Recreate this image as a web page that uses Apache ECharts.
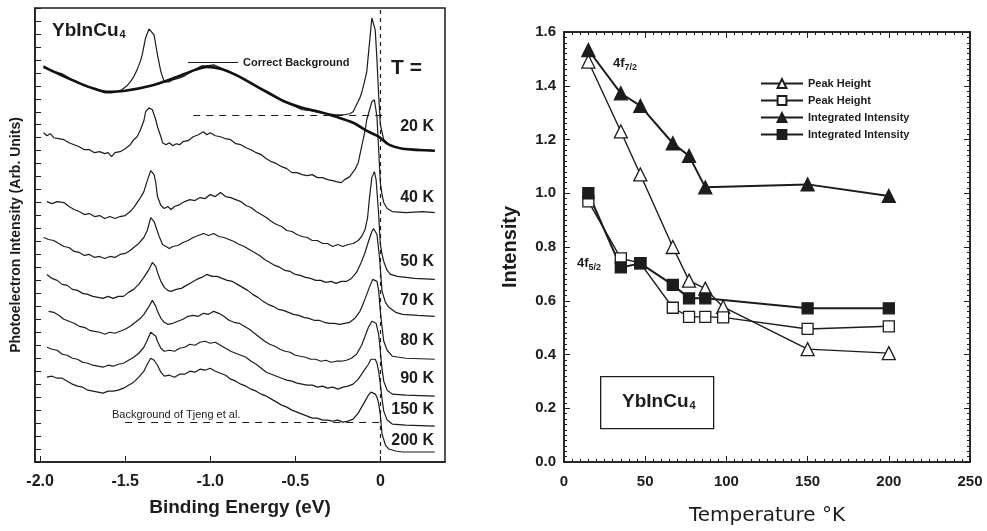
<!DOCTYPE html>
<html>
<head>
<meta charset="utf-8">
<script src="https://cdn.jsdelivr.net/npm/echarts@6/dist/echarts.min.js"></script>
<style>
  html, body { margin: 0; padding: 0; background: #fff; }
  #chart { width: 987px; height: 531px; }
</style>
</head>
<body>
<div id="chart"></div>
<script>
// ---- left panel: YbInCu4 spectra, [binding energy (eV), intensity (arb.)] ----
const energyTicks = [-2, -1.5, -1, -0.5, 0];
const spectrumNames = ['20 K', '40 K', '50 K', '70 K', '80 K', '90 K', '150 K', '200 K'];

const correctBackground = [
  [-1.98, 396], [-1.88, 388], [-1.76, 379], [-1.68, 374], [-1.61, 371], [-1.5, 372],
  [-1.35, 377], [-1.21, 385], [-1.09, 393], [-1.02, 396], [-0.94, 394], [-0.85, 388],
  [-0.66, 370], [-0.56, 361], [-0.46, 355], [-0.36, 351], [-0.26, 346], [-0.16, 340],
  [-0.07, 331], [-0.01, 326], [0.05, 318], [0.13, 314], [0.32, 312]
];
const spec20 = [
  [-1.98, 397], [-1.95, 394], [-1.91, 391], [-1.87, 389], [-1.82, 384], [-1.78, 381],
  [-1.74, 377], [-1.7, 375], [-1.65, 372], [-1.62, 370], [-1.58, 370], [-1.55, 371],
  [-1.52, 373], [-1.49, 377], [-1.47, 381], [-1.45, 386], [-1.43, 393], [-1.41, 402],
  [-1.4, 408], [-1.38, 425], [-1.36, 434], [-1.35, 436], [-1.33, 428], [-1.31, 408],
  [-1.29, 391], [-1.27, 381], [-1.24, 381], [-1.22, 383], [-1.18, 385], [-1.15, 387],
  [-1.12, 390], [-1.08, 394], [-1.05, 397], [-1.02, 397], [-0.98, 398], [-0.94, 395],
  [-0.9, 392], [-0.85, 388], [-0.8, 384], [-0.75, 379], [-0.71, 375], [-0.66, 371],
  [-0.61, 366], [-0.56, 361], [-0.51, 357], [-0.46, 353], [-0.41, 352], [-0.36, 350],
  [-0.31, 349], [-0.26, 348], [-0.21, 348], [-0.18, 349], [-0.16, 351], [-0.14, 358],
  [-0.12, 365], [-0.11, 370], [-0.095, 380], [-0.08, 391], [-0.065, 418], [-0.05, 445],
  [-0.03, 433], [-0.02, 403], [-0.01, 368], [0, 338], [0.02, 323], [0.06, 317],
  [0.13, 314], [0.32, 312]
];
const spec40 = [
  [-1.98, 330], [-1.96, 327], [-1.94, 329], [-1.92, 325], [-1.89, 324], [-1.86, 323],
  [-1.83, 320], [-1.8, 318], [-1.77, 316], [-1.74, 313], [-1.71, 313], [-1.68, 310],
  [-1.65, 311], [-1.62, 309], [-1.6, 310], [-1.58, 306], [-1.56, 310], [-1.53, 311],
  [-1.5, 314], [-1.47, 318], [-1.45, 323], [-1.43, 326], [-1.41, 333], [-1.39, 342],
  [-1.38, 351], [-1.36, 355], [-1.35, 357], [-1.34, 353], [-1.32, 343], [-1.31, 336],
  [-1.29, 326], [-1.28, 320], [-1.26, 318], [-1.24, 320], [-1.22, 317], [-1.2, 319],
  [-1.18, 318], [-1.16, 321], [-1.13, 322], [-1.1, 326], [-1.07, 328], [-1.04, 331],
  [-1.02, 328], [-1.0, 330], [-0.97, 327], [-0.94, 326], [-0.91, 324], [-0.88, 323],
  [-0.85, 319], [-0.82, 318], [-0.79, 315], [-0.76, 313], [-0.73, 310], [-0.7, 308],
  [-0.67, 304], [-0.64, 301], [-0.61, 299], [-0.58, 296], [-0.55, 294], [-0.52, 290],
  [-0.49, 290], [-0.46, 288], [-0.43, 287], [-0.4, 288], [-0.37, 285], [-0.34, 285],
  [-0.31, 283], [-0.28, 282], [-0.26, 281], [-0.23, 280], [-0.21, 283], [-0.18, 286],
  [-0.15, 293], [-0.13, 300], [-0.11, 316], [-0.09, 332], [-0.08, 343], [-0.06, 355],
  [-0.05, 361], [-0.035, 363], [-0.02, 346], [-0.01, 313], [0, 280], [0.01, 268],
  [0.02, 260], [0.04, 254], [0.07, 251], [0.15, 250], [0.25, 251], [0.32, 250]
];
const spec50 = [
  [-1.96, 261], [-1.93, 259], [-1.9, 261], [-1.86, 260], [-1.83, 256], [-1.8, 253],
  [-1.77, 251], [-1.74, 248], [-1.71, 249], [-1.68, 246], [-1.65, 247], [-1.62, 244],
  [-1.59, 246], [-1.56, 244], [-1.53, 246], [-1.5, 247], [-1.47, 251], [-1.45, 255],
  [-1.43, 260], [-1.41, 265], [-1.39, 271], [-1.37, 282], [-1.35, 292], [-1.33, 288],
  [-1.32, 280], [-1.31, 266], [-1.29, 257], [-1.27, 254], [-1.25, 256], [-1.23, 253],
  [-1.21, 256], [-1.18, 258], [-1.15, 261], [-1.12, 263], [-1.09, 262], [-1.06, 265],
  [-1.03, 264], [-1.0, 268], [-0.97, 266], [-0.94, 270], [-0.91, 266], [-0.88, 265],
  [-0.85, 263], [-0.82, 261], [-0.79, 257], [-0.76, 255], [-0.73, 251], [-0.7, 248],
  [-0.67, 245], [-0.64, 241], [-0.61, 238], [-0.58, 236], [-0.55, 232], [-0.52, 231],
  [-0.49, 228], [-0.46, 226], [-0.43, 225], [-0.4, 222], [-0.37, 222], [-0.34, 219],
  [-0.31, 219], [-0.28, 216], [-0.25, 218], [-0.22, 216], [-0.19, 218], [-0.16, 219],
  [-0.13, 222], [-0.11, 226], [-0.09, 233], [-0.075, 245], [-0.065, 263], [-0.05, 285],
  [-0.035, 291], [-0.025, 283], [-0.01, 248], [0, 218], [0.01, 208], [0.02, 201],
  [0.04, 192], [0.06, 188], [0.1, 186], [0.2, 184], [0.32, 183]
];
const spec70 = [
  [-1.98, 225], [-1.95, 223], [-1.92, 222], [-1.89, 219], [-1.86, 216], [-1.83, 215],
  [-1.8, 211], [-1.77, 210], [-1.74, 207], [-1.71, 208], [-1.68, 205], [-1.65, 206],
  [-1.62, 204], [-1.59, 206], [-1.56, 205], [-1.53, 208], [-1.5, 209], [-1.47, 212],
  [-1.45, 215], [-1.42, 219], [-1.39, 225], [-1.37, 232], [-1.35, 245], [-1.33, 241],
  [-1.32, 236], [-1.3, 226], [-1.28, 218], [-1.26, 216], [-1.24, 214], [-1.22, 216],
  [-1.19, 217], [-1.16, 220], [-1.13, 222], [-1.1, 225], [-1.07, 227], [-1.04, 229],
  [-1.01, 227], [-0.98, 229], [-0.95, 226], [-0.92, 225], [-0.89, 223], [-0.86, 221],
  [-0.83, 218], [-0.8, 216], [-0.77, 213], [-0.74, 210], [-0.71, 207], [-0.68, 203],
  [-0.65, 200], [-0.62, 197], [-0.59, 195], [-0.56, 192], [-0.53, 191], [-0.5, 188],
  [-0.47, 187], [-0.44, 185], [-0.41, 184], [-0.38, 182], [-0.35, 182], [-0.32, 180],
  [-0.29, 181], [-0.26, 179], [-0.23, 181], [-0.2, 181], [-0.17, 184], [-0.14, 190],
  [-0.11, 201], [-0.09, 210], [-0.07, 221], [-0.05, 231], [-0.04, 234], [-0.02, 228],
  [-0.005, 205], [0.01, 171], [0.03, 160], [0.05, 155], [0.09, 150], [0.13, 148],
  [0.22, 147], [0.32, 146]
];
const spec80 = [
  [-1.96, 188], [-1.93, 184], [-1.9, 182], [-1.87, 178], [-1.84, 177], [-1.81, 173],
  [-1.78, 172], [-1.75, 169], [-1.72, 168], [-1.69, 166], [-1.66, 165], [-1.63, 164],
  [-1.6, 166], [-1.57, 164], [-1.54, 166], [-1.51, 166], [-1.48, 170], [-1.45, 173],
  [-1.42, 178], [-1.39, 185], [-1.36, 193], [-1.34, 200], [-1.32, 196], [-1.31, 190],
  [-1.29, 181], [-1.27, 175], [-1.25, 172], [-1.23, 171], [-1.2, 173], [-1.17, 174],
  [-1.14, 177], [-1.11, 180], [-1.08, 183], [-1.05, 185], [-1.02, 188], [-0.99, 186],
  [-0.96, 186], [-0.93, 184], [-0.9, 182], [-0.87, 181], [-0.84, 178], [-0.81, 175],
  [-0.78, 172], [-0.75, 168], [-0.72, 165], [-0.69, 161], [-0.66, 158], [-0.63, 156],
  [-0.6, 153], [-0.57, 152], [-0.54, 150], [-0.51, 148], [-0.48, 147], [-0.45, 145],
  [-0.42, 144], [-0.39, 142], [-0.36, 142], [-0.33, 140], [-0.3, 139], [-0.27, 139],
  [-0.24, 138], [-0.21, 139], [-0.18, 140], [-0.15, 144], [-0.12, 151], [-0.1, 159],
  [-0.08, 168], [-0.06, 177], [-0.045, 183], [-0.035, 184], [-0.02, 181], [-0.01, 172],
  [0, 151], [0.01, 135], [0.02, 121], [0.04, 112], [0.07, 106], [0.15, 104], [0.32, 103]
];
const spec90 = [
  [-1.95, 151], [-1.92, 150], [-1.89, 147], [-1.86, 143], [-1.83, 141], [-1.8, 139],
  [-1.77, 136], [-1.74, 135], [-1.71, 132], [-1.68, 131], [-1.65, 130], [-1.62, 128],
  [-1.59, 130], [-1.56, 129], [-1.53, 131], [-1.5, 133], [-1.47, 136], [-1.44, 140],
  [-1.41, 144], [-1.39, 148], [-1.36, 156], [-1.34, 162], [-1.32, 156], [-1.31, 151],
  [-1.29, 144], [-1.27, 140], [-1.25, 138], [-1.22, 139], [-1.19, 141], [-1.16, 143],
  [-1.13, 146], [-1.1, 147], [-1.07, 146], [-1.04, 149], [-1.01, 148], [-0.98, 151],
  [-0.95, 149], [-0.92, 146], [-0.89, 142], [-0.86, 140], [-0.83, 139], [-0.8, 136],
  [-0.77, 133], [-0.74, 129], [-0.71, 125], [-0.68, 121], [-0.65, 118], [-0.62, 116],
  [-0.59, 113], [-0.56, 111], [-0.53, 110], [-0.5, 107], [-0.47, 106], [-0.44, 105],
  [-0.41, 103], [-0.38, 103], [-0.35, 101], [-0.32, 102], [-0.29, 100], [-0.26, 101],
  [-0.23, 101], [-0.2, 102], [-0.17, 104], [-0.14, 108], [-0.11, 117], [-0.09, 126],
  [-0.07, 135], [-0.05, 141], [-0.04, 142], [-0.025, 139], [-0.01, 128], [0, 111],
  [0.01, 93], [0.02, 81], [0.04, 72], [0.07, 68], [0.15, 67], [0.32, 66]
];
const spec150 = [
  [-1.96, 115], [-1.93, 113], [-1.9, 112], [-1.87, 108], [-1.84, 107], [-1.81, 104],
  [-1.78, 103], [-1.75, 100], [-1.72, 99], [-1.69, 97], [-1.66, 96], [-1.63, 95],
  [-1.6, 97], [-1.57, 96], [-1.54, 98], [-1.51, 99], [-1.48, 102], [-1.45, 105],
  [-1.42, 109], [-1.39, 115], [-1.37, 122], [-1.35, 130], [-1.34, 131], [-1.32, 126],
  [-1.31, 121], [-1.29, 114], [-1.27, 111], [-1.24, 112], [-1.21, 111], [-1.18, 114],
  [-1.15, 115], [-1.12, 118], [-1.09, 117], [-1.06, 120], [-1.03, 121], [-1.0, 119],
  [-0.97, 120], [-0.94, 117], [-0.91, 114], [-0.88, 111], [-0.85, 109], [-0.82, 107],
  [-0.79, 105], [-0.76, 101], [-0.73, 98], [-0.7, 94], [-0.67, 90], [-0.64, 88],
  [-0.61, 86], [-0.58, 84], [-0.55, 82], [-0.52, 81], [-0.49, 79], [-0.46, 78],
  [-0.43, 77], [-0.4, 77], [-0.37, 75], [-0.34, 76], [-0.31, 74], [-0.28, 75],
  [-0.25, 73], [-0.22, 75], [-0.19, 76], [-0.16, 78], [-0.13, 83], [-0.11, 88],
  [-0.09, 93], [-0.07, 98], [-0.055, 103], [-0.045, 105], [-0.03, 103], [-0.02, 99],
  [-0.01, 91], [0, 78], [0.01, 63], [0.02, 51], [0.04, 42], [0.07, 38], [0.15, 37],
  [0.32, 36]
];
const spec200 = [
  [-1.96, 85], [-1.93, 86], [-1.9, 84], [-1.87, 84], [-1.84, 81], [-1.81, 78],
  [-1.78, 76], [-1.75, 75], [-1.72, 72], [-1.69, 71], [-1.66, 70], [-1.63, 69],
  [-1.6, 71], [-1.57, 71], [-1.54, 72], [-1.51, 74], [-1.48, 77], [-1.45, 80],
  [-1.42, 85], [-1.39, 91], [-1.37, 98], [-1.35, 104], [-1.33, 102], [-1.31, 97],
  [-1.29, 90], [-1.27, 86], [-1.24, 87], [-1.21, 85], [-1.18, 88], [-1.15, 88],
  [-1.12, 91], [-1.09, 90], [-1.06, 93], [-1.03, 92], [-1.0, 94], [-0.97, 91],
  [-0.94, 89], [-0.91, 87], [-0.88, 83], [-0.85, 81], [-0.82, 78], [-0.79, 76],
  [-0.76, 73], [-0.73, 71], [-0.7, 68], [-0.67, 66], [-0.64, 63], [-0.61, 60],
  [-0.58, 57], [-0.55, 55], [-0.52, 52], [-0.49, 50], [-0.46, 48], [-0.43, 46],
  [-0.4, 44], [-0.37, 44], [-0.34, 42], [-0.31, 42], [-0.28, 41], [-0.25, 42],
  [-0.22, 40], [-0.19, 41], [-0.16, 43], [-0.13, 49], [-0.11, 55], [-0.09, 61],
  [-0.07, 67], [-0.055, 70], [-0.045, 70], [-0.03, 68], [-0.02, 65], [-0.01, 59],
  [0, 47], [0.01, 28], [0.03, 17], [0.05, 13], [0.09, 11], [0.13, 10], [0.32, 10]
];
const spectra = [spec20, spec40, spec50, spec70, spec80, spec90, spec150, spec200];
// vertical position of each "T" label, just above its spectrum's tail
const labelY = [128, 199, 263, 302, 342, 380, 411, 442];

// ---- right panel: 4f intensities vs temperature ----
const temperatures = [15, 35, 47, 67, 77, 87, 98, 150, 200];
const peakHeight72 = [1.49, 1.23, 1.07, 0.80, 0.675, 0.645, 0.577, 0.42, 0.405];
const peakHeight52 = [0.97, 0.758, 0.74, 0.574, 0.54, 0.54, 0.538, 0.495, 0.505];
const integrated72 = [1.533, 1.372, 1.325, 1.186, 1.139, 1.022, null, 1.033, 0.99];
const integrated52 = [1.0, 0.724, 0.739, 0.659, 0.609, 0.609, null, 0.572, 0.572];

const pairs = (ys) => temperatures.map((t, i) => [t, ys[i]]).filter(p => p[1] != null);

const ink = '#1c1c1c';
const boldFont = 'Liberation Sans, Arial, sans-serif';

const chart = echarts.init(document.getElementById('chart'));

const spectrumSeries = spectra.map((d, i) => ({
  name: spectrumNames[i],
  type: 'line',
  xAxisIndex: 0,
  yAxisIndex: 0,
  data: d,
  symbol: 'none',
  lineStyle: { color: ink, width: 1.2 },
  z: 3
}));
// dashed guides
spectrumSeries[0].markLine = {
  silent: true, symbol: 'none', label: { show: false },
  lineStyle: { color: ink, width: 1.2, type: [7, 6] },
  data: [[{ coord: [-1.1, 348] }, { coord: [0.01, 348] }]]
};
spectrumSeries[7].markLine = {
  silent: true, symbol: 'none', label: { show: false },
  lineStyle: { color: ink, width: 1.2, type: [7, 6] },
  data: [
    [{ coord: [-1.5, 40] }, { coord: [0, 40] }],
    { xAxis: 0, lineStyle: { type: [4, 4], width: 1.2 } }
  ]
};

function pointSeries(name, ys, symbol, filled, size, width) {
  return {
    name: name,
    type: 'line',
    xAxisIndex: 1,
    yAxisIndex: 1,
    data: pairs(ys),
    symbol: symbol,
    symbolSize: size,
    showSymbol: true,
    lineStyle: { color: ink, width: width },
    itemStyle: { color: filled ? ink : '#fff', borderColor: ink, borderWidth: 1.3 },
    z: 4
  };
}

const mirrorAxis = {
  axisLine: { onZero: false, lineStyle: { color: ink, width: 1.5 } },
  axisTick: { inside: true, length: 6, lineStyle: { color: ink } },
  minorTick: { show: true, splitNumber: 10, length: 3, lineStyle: { color: ink } },
  axisLabel: { show: false },
  splitLine: { show: false }
};

const option = {
  animation: false,
  backgroundColor: '#fff',
  grid: [
    { left: 35, right: 542, top: 8, bottom: 69, show: true, borderColor: ink, borderWidth: 1.5 },
    { left: 564, right: 17, top: 32, bottom: 69, show: true, borderColor: ink, borderWidth: 1.5 }
  ],
  legend: [
    {
      data: [{ name: 'Correct Background', icon: 'rect', itemStyle: { color: ink } }],
      left: 183, top: 52,
      itemWidth: 50, itemHeight: 1.2,
      textStyle: { fontFamily: boldFont, fontWeight: 'bold', fontSize: 11, color: ink },
      selectedMode: false
    },
    {
      data: ['Peak Height 4f7/2', 'Peak Height 4f5/2', 'Integrated Intensity 4f7/2', 'Integrated Intensity 4f5/2'],
      orient: 'vertical',
      left: 755, top: 73,
      itemWidth: 42, itemHeight: 11, itemGap: 6,
      formatter: (n) => n.split(' 4f')[0],
      textStyle: { fontFamily: boldFont, fontWeight: 'bold', fontSize: 11, color: ink },
      selectedMode: false
    }
  ],
  xAxis: [
    {
      gridIndex: 0, type: 'value', min: -2.03, max: 0.38,
      name: 'Binding Energy (eV)', nameLocation: 'middle', nameGap: 36,
      nameTextStyle: { fontFamily: boldFont, fontWeight: 'bold', fontSize: 19, color: ink },
      axisLine: { onZero: false, lineStyle: { color: ink, width: 1.5 } },
      axisTick: { inside: true, length: 6, customValues: energyTicks, lineStyle: { color: ink } },
      axisLabel: {
        customValues: energyTicks, margin: 12,
        formatter: (v) => (v === 0 ? '0' : v.toFixed(1)),
        fontFamily: boldFont, fontWeight: 'bold', fontSize: 16, color: ink
      },
      splitLine: { show: false }
    },
    {
      gridIndex: 1, type: 'value', min: 0, max: 250, interval: 50,
      name: 'Temperature °K', nameLocation: 'middle', nameGap: 44,
      nameTextStyle: { fontFamily: 'DejaVu Sans, sans-serif', fontSize: 20, color: ink },
      axisLine: { onZero: false, lineStyle: { color: ink, width: 1.5 } },
      axisTick: { inside: true, length: 6, lineStyle: { color: ink } },
      minorTick: { show: true, splitNumber: 10, length: 3, lineStyle: { color: ink } },
      axisLabel: { margin: 12, fontFamily: boldFont, fontWeight: 'bold', fontSize: 15, color: ink },
      splitLine: { show: false }
    },
    Object.assign({ gridIndex: 1, type: 'value', min: 0, max: 250, interval: 50, position: 'top' }, mirrorAxis)
  ],
  yAxis: [
    {
      gridIndex: 0, type: 'value', min: 0, max: 455, interval: 13,
      name: 'Photoelectron Intensity (Arb. Units)', nameLocation: 'middle', nameGap: 12,
      nameTextStyle: { fontFamily: boldFont, fontWeight: 'bold', fontSize: 14, color: ink },
      axisLine: { onZero: false, lineStyle: { color: ink, width: 1.5 } },
      axisTick: { inside: true, length: 6, lineStyle: { color: ink } },
      axisLabel: { show: false },
      splitLine: { show: false }
    },
    {
      gridIndex: 1, type: 'value', min: 0, max: 1.6, interval: 0.2,
      name: 'Intensity', nameLocation: 'middle', nameGap: 44,
      nameTextStyle: { fontFamily: boldFont, fontWeight: 'bold', fontSize: 20, color: ink },
      axisLine: { onZero: false, lineStyle: { color: ink, width: 1.5 } },
      axisTick: { inside: true, length: 6, lineStyle: { color: ink } },
      minorTick: { show: true, splitNumber: 10, length: 3, lineStyle: { color: ink } },
      axisLabel: {
        margin: 8, formatter: (v) => v.toFixed(1),
        fontFamily: boldFont, fontWeight: 'bold', fontSize: 15, color: ink
      },
      splitLine: { show: false }
    },
    Object.assign({ gridIndex: 1, type: 'value', min: 0, max: 1.6, interval: 0.2, position: 'right' }, mirrorAxis)
  ],
  series: [
    {
      name: 'Correct Background',
      type: 'line',
      xAxisIndex: 0, yAxisIndex: 0,
      data: correctBackground,
      symbol: 'none',
      smooth: 0.3,
      itemStyle: { color: ink },
      lineStyle: { color: '#111', width: 2.6 },
      z: 4
    },
    ...spectrumSeries,
    pointSeries('Peak Height 4f7/2', peakHeight72, 'triangle', false, 13, 1.4),
    pointSeries('Peak Height 4f5/2', peakHeight52, 'rect', false, 11, 1.4),
    pointSeries('Integrated Intensity 4f7/2', integrated72, 'triangle', true, 13, 2),
    pointSeries('Integrated Intensity 4f5/2', integrated52, 'rect', true, 11, 2)
  ],
  graphic: [
    {
      type: 'text', left: 52, top: 21,
      style: {
        text: '{a|YbInCu}{s|4}',
        rich: {
          a: { fontFamily: boldFont, fontWeight: 'bold', fontSize: 19, fill: ink, verticalAlign: 'bottom' },
          s: { fontFamily: boldFont, fontWeight: 'bold', fontSize: 11, fill: ink, verticalAlign: 'bottom', padding: [0, 0, 0, 1] }
        }
      }
    },
    {
      type: 'text', left: 391, top: 58,
      style: { text: 'T =', fontFamily: boldFont, fontWeight: 'bold', fontSize: 21, fill: ink }
    },
    ...spectrumNames.map((n, i) => ({
      type: 'text', right: 987 - 434, top: labelY[i] - 9,
      style: { text: n, fontFamily: boldFont, fontWeight: 'bold', fontSize: 16, fill: ink }
    })),
    {
      type: 'text', left: 112, top: 409,
      style: { text: 'Background of Tjeng et al.', fontFamily: boldFont, fontSize: 11, fill: ink }
    },
    {
      type: 'text', left: 613, top: 57,
      style: {
        text: '{a|4f}{s|7/2}',
        rich: {
          a: { fontFamily: boldFont, fontWeight: 'bold', fontSize: 13, fill: ink, verticalAlign: 'bottom' },
          s: { fontFamily: boldFont, fontWeight: 'bold', fontSize: 9, fill: ink, verticalAlign: 'bottom', padding: [0, 0, -2, 0] }
        }
      }
    },
    {
      type: 'text', left: 577, top: 257,
      style: {
        text: '{a|4f}{s|5/2}',
        rich: {
          a: { fontFamily: boldFont, fontWeight: 'bold', fontSize: 13, fill: ink, verticalAlign: 'bottom' },
          s: { fontFamily: boldFont, fontWeight: 'bold', fontSize: 9, fill: ink, verticalAlign: 'bottom', padding: [0, 0, -2, 0] }
        }
      }
    },
    {
      type: 'rect', left: 600, top: 376,
      shape: { width: 113, height: 52 },
      style: { fill: '#fff', stroke: ink, lineWidth: 1.3 }
    },
    {
      type: 'text', left: 622, top: 392,
      style: {
        text: '{a|YbInCu}{s|4}',
        rich: {
          a: { fontFamily: boldFont, fontWeight: 'bold', fontSize: 19, fill: ink, verticalAlign: 'bottom' },
          s: { fontFamily: boldFont, fontWeight: 'bold', fontSize: 11, fill: ink, verticalAlign: 'bottom', padding: [0, 0, 0, 1] }
        }
      }
    }
  ]
};

chart.setOption(option);
</script>
</body>
</html>
